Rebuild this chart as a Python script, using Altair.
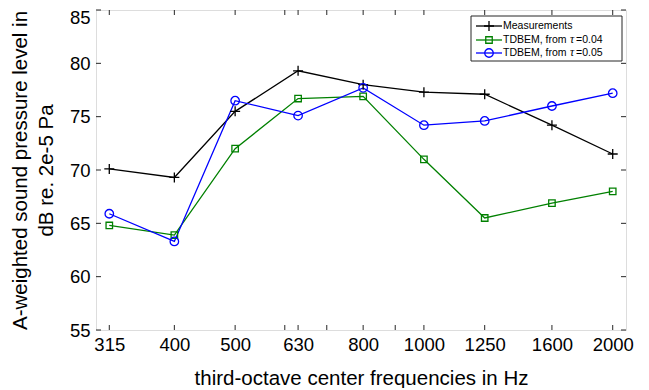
import altair as alt
import pandas as pd

# ---- data ----
freqs = [315, 400, 500, 630, 800, 1000, 1250, 1600, 2000]
freq_labels = ["315", "400", "500", "630", "800", "1000", "1250", "1600", "2000"]
measurements = [70.1, 69.3, 75.5, 79.3, 78.0, 77.3, 77.1, 74.2, 71.5]
tdbem_tau004 = [64.8, 63.9, 72.0, 76.7, 76.9, 71.0, 65.5, 66.9, 68.0]
tdbem_tau005 = [65.9, 63.3, 76.5, 75.1, 77.7, 74.2, 74.6, 76.0, 77.2]

series_names = ["Measurements", "TDBEM, from τ=0.04", "TDBEM, from τ=0.05"]
series_colors = ["#000000", "#008000", "#0000ff"]
series_shapes = ["M-1,0H1M0,-1V1", "square", "circle"]
series_sizes = [100, 42, 72]
minor_x_ticks = [600, 700, 900]
y_ticks = [55, 60, 65, 70, 75, 80, 85]

# ---- layout (style only) ----
W, H = 530, 320
FONT = "Liberation Sans"
AX = "#262626"

rows = []
for name, vals in zip(series_names, [measurements, tdbem_tau004, tdbem_tau005]):
    for f, v in zip(freqs, vals):
        rows.append({"series": name, "freq": f, "spl": v})
df = pd.DataFrame(rows)

xscale = alt.Scale(type="log", domain=[300, 2100], nice=False)
yscale = alt.Scale(domain=[55, 85], nice=False, zero=False)
cscale = alt.Scale(domain=series_names, range=series_colors)

label_expr = "{" + ",".join(f"'{f}':'{l}'" for f, l in zip(freqs, freq_labels)) + "}[datum.value]"

x_axis = alt.Axis(
    values=freqs, labelExpr=label_expr, tickSize=0, domain=False, grid=False,
    labelFontSize=18.5, labelFont=FONT, labelColor="#000", labelPadding=5,
    labelFlush=False, labelOverlap=False,
    title="third-octave center frequencies in Hz", titleFontSize=20.5,
    titleFont=FONT, titleFontWeight="normal", titleColor="#000",
    titleBaseline="alphabetic", titleY=54,
)
y_axis = alt.Axis(
    values=y_ticks, format="d", tickSize=0, domain=False, grid=False,
    labelFontSize=18.5, labelFont=FONT, labelColor="#000", labelPadding=6,
    labelFlush=False,
    labelOffset={"condition": {"test": "datum.value >= 85", "value": 7}, "value": 0},
    title=["A-weighted sound pressure level in", "dB re. 2e-5 Pa"],
    titleFontSize=20.5, titleFont=FONT, titleFontWeight="normal",
    titleColor="#000", titleX=-86, titleY=H / 2, titleAngle=270,
    titleBaseline="top", titleAlign="center", titleLineHeight=26,
)


def X():
    return alt.X("freq:Q", scale=xscale, axis=x_axis)


def Y():
    return alt.Y("spl:Q", scale=yscale, axis=y_axis)


layers = []
base = alt.Chart(df)
layers.append(base.mark_line(strokeWidth=1.3).encode(
    x=X(), y=Y(),
    color=alt.Color("series:N", scale=cscale, legend=None),
    detail="series:N",
))
for name, col, shp, sz in zip(series_names, series_colors, series_shapes, series_sizes):
    layers.append(base.transform_filter(alt.datum.series == name).mark_point(
        filled=False, strokeWidth=1.3, opacity=1, color=col, shape=shp, size=sz
    ).encode(x=X(), y=Y()))

# inward tick marks (MATLAB style box)
xt = pd.DataFrame({"freq": freqs + minor_x_ticks})
yt = pd.DataFrame({"spl": y_ticks})
layers.append(alt.Chart(xt).mark_rule(color=AX, strokeWidth=1).encode(
    x=X(), y=alt.value(H), y2=alt.value(H - 5)))
layers.append(alt.Chart(xt).mark_rule(color=AX, strokeWidth=1).encode(
    x=X(), y=alt.value(0), y2=alt.value(5)))
layers.append(alt.Chart(yt).mark_rule(color=AX, strokeWidth=1).encode(
    y=Y(), x=alt.value(0), x2=alt.value(5)))
layers.append(alt.Chart(yt).mark_rule(color=AX, strokeWidth=1).encode(
    y=Y(), x=alt.value(W - 5), x2=alt.value(W)))

# ---- legend box (drawn in pixel space) ----
leg_y = [16, 30, 43]
leg_pre = ["Measurements", "TDBEM, from ", "TDBEM, from "]
leg_tau = ["", "τ", "τ"]
leg_post = ["", "=0.04", "=0.05"]
LX0, LX1, LMK, LTX = 380, 406, 393, 407

layers.append(alt.Chart(pd.DataFrame({"k": [0]})).mark_rect(
    fill="white", stroke=AX, strokeWidth=1).encode(
    x=alt.value(375), x2=alt.value(526), y=alt.value(6), y2=alt.value(51)))
for i, (name, col, shp, sz) in enumerate(zip(series_names, series_colors, series_shapes, series_sizes)):
    one = alt.Chart(pd.DataFrame({"k": [0]}))
    ly = leg_y[i]
    layers.append(one.mark_rule(strokeWidth=1.3, color=col).encode(
        x=alt.value(LX0), x2=alt.value(LX1), y=alt.value(ly)))
    layers.append(one.mark_point(filled=False, strokeWidth=1.3, opacity=1, color=col,
                                 shape=shp, size=sz).encode(
        x=alt.value(LMK), y=alt.value(ly)))
    layers.append(one.mark_text(align="left", baseline="middle", font=FONT, fontSize=10.5,
                                color="#000", text=leg_pre[i]).encode(
        x=alt.value(LTX), y=alt.value(ly)))
    if leg_tau[i]:
        layers.append(one.mark_text(align="left", baseline="middle", font="Liberation Serif",
                                    fontStyle="italic", fontSize=11.5, color="#000",
                                    text=leg_tau[i]).encode(
            x=alt.value(LTX + 67), y=alt.value(ly)))
        layers.append(one.mark_text(align="left", baseline="middle", font=FONT, fontSize=10.5,
                                    color="#000", text=leg_post[i]).encode(
            x=alt.value(LTX + 73), y=alt.value(ly)))

chart = alt.layer(*layers).properties(
    width=W, height=H,
    autosize=alt.AutoSizeParams(type="none"),
    padding={"left": 88, "top": 2, "right": 15, "bottom": 58},
).configure_view(
    stroke=AX, strokeWidth=1,
).configure(background="white")

chart.save("out.html", embed_options={"renderer": "svg", "actions": False})
